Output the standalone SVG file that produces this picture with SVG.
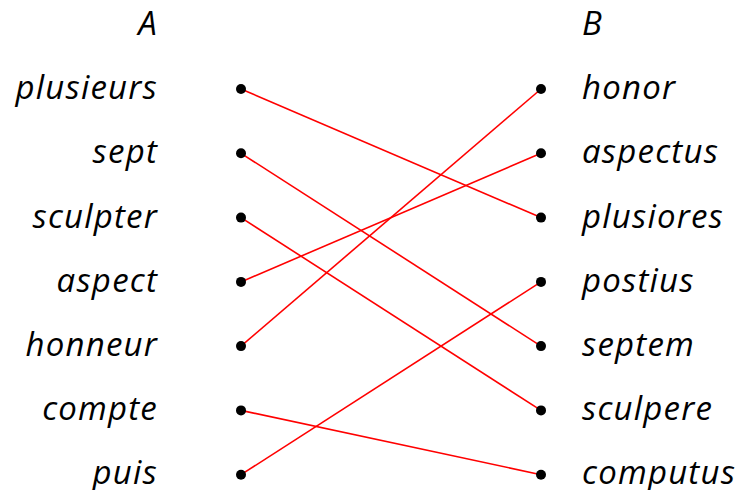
<svg xmlns="http://www.w3.org/2000/svg" width="738" height="490" viewBox="0 0 738 490">
<style>
text{font-family:"Open Sans","DejaVu Sans",sans-serif;font-style:italic;font-size:33px;letter-spacing:1.2px;fill:#000}
.l{text-anchor:end}
.r{text-anchor:start}
.c{stroke:#ff0000;stroke-width:1.6;fill:none}
circle{fill:#000}
</style>
<rect width="738" height="490" fill="#fff"/>
<g id="headers">
<text class="l" x="158" y="35">A</text>
<text class="r" x="582" y="35">B</text>
</g>
<g id="connectors">
<line class="c" x1="241" y1="89" x2="541" y2="217.6"/>
<line class="c" x1="241" y1="153.3" x2="541" y2="346.1"/>
<line class="c" x1="241" y1="217.6" x2="541" y2="410.4"/>
<line class="c" x1="241" y1="281.9" x2="541" y2="153.3"/>
<line class="c" x1="241" y1="346.1" x2="541" y2="89"/>
<line class="c" x1="241" y1="410.4" x2="541" y2="474.7"/>
<line class="c" x1="241" y1="474.7" x2="541" y2="281.9"/>
</g>
<g id="a-plusieurs"><text class="l" x="158" y="99">plusieurs</text><circle cx="241" cy="89" r="5"/></g>
<g id="a-sept"><text class="l" x="158" y="163.3">sept</text><circle cx="241" cy="153.3" r="5"/></g>
<g id="a-sculpter"><text class="l" x="158" y="227.6">sculpter</text><circle cx="241" cy="217.6" r="5"/></g>
<g id="a-aspect"><text class="l" x="158" y="291.9">aspect</text><circle cx="241" cy="281.9" r="5"/></g>
<g id="a-honneur"><text class="l" x="158" y="356.1">honneur</text><circle cx="241" cy="346.1" r="5"/></g>
<g id="a-compte"><text class="l" x="158" y="420.4">compte</text><circle cx="241" cy="410.4" r="5"/></g>
<g id="a-puis"><text class="l" x="158" y="483.5">puis</text><circle cx="241" cy="474.7" r="5"/></g>
<g id="b-honor"><circle cx="541" cy="89" r="5"/><text class="r" x="582" y="99">honor</text></g>
<g id="b-aspectus"><circle cx="541" cy="153.3" r="5"/><text class="r" x="582" y="163.3">aspectus</text></g>
<g id="b-plusiores"><circle cx="541" cy="217.6" r="5"/><text class="r" x="582" y="227.6">plusiores</text></g>
<g id="b-postius"><circle cx="541" cy="281.9" r="5"/><text class="r" x="582" y="291.9">postius</text></g>
<g id="b-septem"><circle cx="541" cy="346.1" r="5"/><text class="r" x="582" y="356.1">septem</text></g>
<g id="b-sculpere"><circle cx="541" cy="410.4" r="5"/><text class="r" x="582" y="420.4">sculpere</text></g>
<g id="b-computus"><circle cx="541" cy="474.7" r="5"/><text class="r" x="582" y="483.5">computus</text></g>
</svg>
